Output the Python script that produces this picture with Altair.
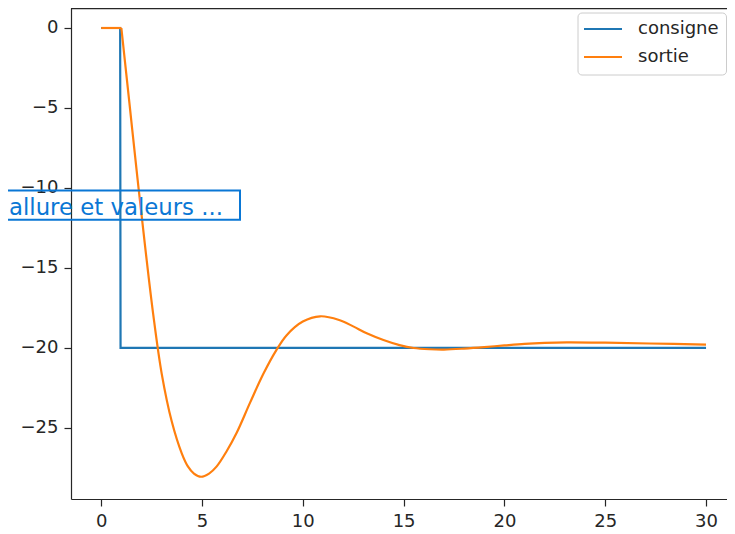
import altair as alt
import pandas as pd

# ---- data ----
series = ["consigne", "sortie"]
colors = ["#1f77b4", "#ff7f0e"]

t_consigne = [0, 0.94, 0.96, 30]
y_consigne = [0, 0, -20, -20]

# flat start of the output, then the response after the step
t_sortie_flat = [0, 1.0]
y_sortie_flat = [0, 0]
t_sortie = [1.0, 1.4, 1.8, 2.2, 2.58, 3.0, 3.5, 4.0, 4.3, 4.6, 4.95, 5.35, 5.73, 6.2, 6.72,
            7.39, 8.05, 8.68, 9.2, 10.0, 10.86, 11.8, 12.5, 13.17, 14.0, 14.8, 15.5,
            16.3, 17.0, 18.0, 19.0, 20.0, 21.0, 22.0, 23.1, 25.0, 27.2, 30]
y_sortie = [0, -4.7, -9.4, -13.9, -17.9, -21.6, -24.6, -26.6, -27.4, -27.85, -28.05, -27.85,
            -27.4, -26.5, -25.3, -23.4, -21.6, -20.15, -19.2, -18.35, -18.02, -18.25,
            -18.65, -19.08, -19.5, -19.82, -20.0, -20.08, -20.1, -20.04, -19.95, -19.84,
            -19.74, -19.68, -19.65, -19.67, -19.72, -19.79]

x_ticks = [0, 5, 10, 15, 20, 25, 30]
y_ticks = [-25, -20, -15, -10, -5, 0]
x_domain = [-1.498, 31.04]
y_domain = [-29.44, 1.25]
note_text = "allure et valeurs ..."

W, H = 656, 491
ink = "#262626"

df_c = pd.DataFrame({"t": t_consigne, "y": y_consigne, "serie": series[0]})
df_f = pd.DataFrame({"t": t_sortie_flat, "y": y_sortie_flat, "serie": series[1]})
df_s = pd.DataFrame({"t": t_sortie, "y": y_sortie, "serie": series[1]})

color_scale = alt.Scale(domain=series, range=colors)
x_enc = alt.X("t:Q", scale=alt.Scale(domain=x_domain, nice=False, zero=False),
              axis=alt.Axis(values=x_ticks, title=None, grid=False, format="d"))
y_enc = alt.Y("y:Q", scale=alt.Scale(domain=y_domain, nice=False, zero=False),
              axis=alt.Axis(values=y_ticks, title=None, grid=False, format="d"))
c_enc = alt.Color("serie:N", scale=color_scale, legend=None)

line_c = alt.Chart(df_c).mark_line(strokeWidth=2.2, interpolate="linear").encode(
    x=x_enc, y=y_enc, color=c_enc)
line_f = alt.Chart(df_f).mark_line(strokeWidth=2.2, interpolate="linear").encode(
    x=x_enc, y=y_enc, color=c_enc)
line_s = alt.Chart(df_s).mark_line(strokeWidth=2.2, interpolate="catmull-rom").encode(
    x=x_enc, y=y_enc, color=c_enc)

one = pd.DataFrame({"a": [0]})

top_spine = alt.Chart(one).mark_rule(color=ink, strokeWidth=1.2).encode(
    x=alt.value(0), x2=alt.value(W), y=alt.value(0.6))

# legend box (manual, matplotlib style)
leg_box = alt.Chart(one).mark_rect(fill="white", fillOpacity=0.8, stroke="#cccccc",
                                   strokeWidth=1, cornerRadius=4).encode(
    x=alt.value(507), x2=alt.value(656 - 0.5), y=alt.value(5), y2=alt.value(67))
leg_layers = []
for i, (name, col) in enumerate(zip(series, colors)):
    yy = 21 + 28 * i
    leg_layers.append(alt.Chart(one).mark_rule(color=col, strokeWidth=2.2).encode(
        x=alt.value(513), x2=alt.value(551), y=alt.value(yy)))
    leg_layers.append(alt.Chart(one).mark_text(text=name, align="left", baseline="middle",
                                               font="DejaVu Sans", fontSize=18, color=ink).encode(
        x=alt.value(567), y=alt.value(yy)))

# overlay annotation box
note_col = "#0a77d5"
note_box = alt.Chart(one).mark_rect(fill=None, stroke=note_col, strokeWidth=2).encode(
    x=alt.value(-90), x2=alt.value(169), y=alt.value(182.5), y2=alt.value(211.7))
note = alt.Chart(one).mark_text(text=note_text, align="left", baseline="alphabetic",
                                font="DejaVu Sans", fontSize=22.8, color=note_col).encode(
    x=alt.value(-62), y=alt.value(207))

chart = alt.layer(line_c, line_f, line_s, top_spine, leg_box, *leg_layers, note_box, note).properties(
    width=W, height=H,
    autosize=alt.AutoSizeParams(type="none"),
    padding={"left": 63, "top": 0, "right": 0, "bottom": 33},
).configure_view(stroke=None).configure_axis(
    labelFont="DejaVu Sans", labelFontSize=18, labelColor=ink,
    domainColor=ink, domainWidth=1.2, tickColor=ink, tickWidth=1.2, tickSize=7,
    labelPadding=6,
)

chart.save("out.html", embed_options={"renderer": "svg", "actions": False})
